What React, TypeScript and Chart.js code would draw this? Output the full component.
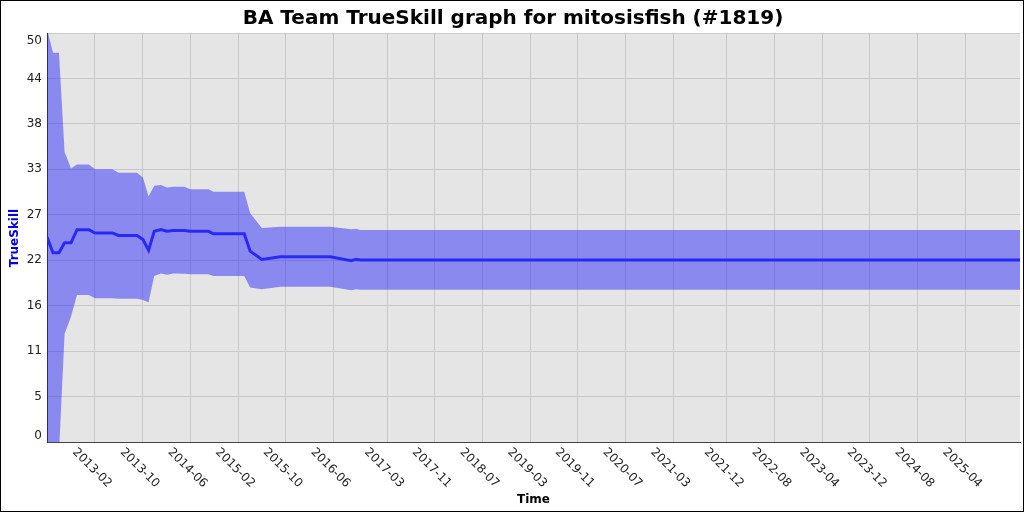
import React, { useEffect, useRef } from 'react';
import { Chart, registerables } from 'chart.js';

Chart.register(...registerables);

const TITLE = 'BA Team TrueSkill graph for mitosisfish (#1819)';
const Y_TITLE = 'TrueSkill';
const X_TITLE = 'Time';

// x values: months since 2012-01
const months = [4.95, 5.96, 6.96, 7.9, 8.98, 9.98, 11.99, 13.0, 15.9, 16.96, 20.04, 21.05, 21.99, 22.94, 24.07, 25.07, 26.18, 28.03, 28.98, 32.05, 32.89, 38.04, 39.04, 41.0, 44.08, 52.46, 56.0, 56.8, 57.5, 168.2];
const mean = [24.8, 22.9, 22.9, 24.1, 24.1, 25.7, 25.7, 25.3, 25.3, 25.0, 25.0, 24.5, 23.2, 25.5, 25.7, 25.5, 25.6, 25.6, 25.5, 25.5, 25.2, 25.2, 23.1, 22.1, 22.43, 22.43, 21.94, 22.1, 22.03, 22.03];
const upper = [50.0, 47.1, 47.1, 35.1, 33.1, 33.6, 33.6, 33.0, 33.0, 32.6, 32.6, 32.0, 29.7, 31.0, 31.1, 30.8, 30.9, 30.9, 30.6, 30.6, 30.3, 30.3, 27.7, 25.9, 26.06, 26.06, 25.74, 25.8, 25.66, 25.66];
const lower = [-0.4, -1.3, -1.3, 13.1, 15.2, 17.8, 17.8, 17.4, 17.4, 17.35, 17.35, 17.2, 16.9, 20.1, 20.4, 20.25, 20.4, 20.35, 20.3, 20.3, 20.1, 20.1, 18.7, 18.5, 18.8, 18.8, 18.36, 18.5, 18.43, 18.43];

const xTickMonths = [13, 21, 29, 37, 45, 53, 62, 70, 78, 86, 94, 102, 110, 119, 127, 135, 143, 151, 159];
const xTickLabels = ['2013-02', '2013-10', '2014-06', '2015-02', '2015-10', '2016-06', '2017-03', '2017-11', '2018-07', '2019-03', '2019-11', '2020-07', '2021-03', '2021-12', '2022-08', '2023-04', '2023-12', '2024-08', '2025-04'];
const yTickValues = [0.73, 5.5, 11, 16.5, 22, 27.5, 33, 38.5, 44, 48.5];
const yTickLabels = ['0', '5', '11', '16', '22', '27', '33', '38', '44', '50'];

const FONT = '"DejaVu Sans", sans-serif';

export default function App() {
  const ref = useRef<HTMLCanvasElement | null>(null);
  useEffect(() => {
    if (!ref.current) return;
    const pts = (arr: number[]) => arr.map((v, i) => ({ x: months[i], y: v }));
    const decor = {
      id: 'decor',
      beforeDraw(chart: any) {
        const { ctx, chartArea: a } = chart;
        ctx.save();
        ctx.fillStyle = '#ffffff';
        ctx.fillRect(0, 0, chart.width, chart.height);
        ctx.fillStyle = '#e5e5e5';
        ctx.fillRect(a.left, a.top, a.right - a.left, a.bottom - a.top);
        ctx.strokeStyle = '#cccccc';
        ctx.lineWidth = 1;
        ctx.beginPath();
        ctx.moveTo(a.left, a.top + 0.5);
        ctx.lineTo(a.right, a.top + 0.5);
        ctx.stroke();
        ctx.restore();
      },
      afterDraw(chart: any) {
        const { ctx, chartArea: a } = chart;
        const xs = chart.scales.x;
        ctx.save();
        ctx.font = '12px ' + FONT;
        ctx.fillStyle = '#222222';
        ctx.textAlign = 'center';
        ctx.textBaseline = 'middle';
        xTickMonths.forEach((m, i) => {
          const px = xs.getPixelForValue(m);
          ctx.save();
          ctx.translate(px - 3, 468);
          ctx.rotate(Math.PI / 4);
          ctx.fillText(xTickLabels[i], 0, 0);
          ctx.restore();
        });
        ctx.fillStyle = '#000000';
        ctx.font = 'bold 20px ' + FONT;
        ctx.textBaseline = 'alphabetic';
        ctx.fillText(TITLE, 513, 24);
        ctx.font = 'bold 12px ' + FONT;
        ctx.textBaseline = 'middle';
        ctx.fillText(X_TITLE, (a.left + a.right) / 2, 499.5);
        ctx.save();
        ctx.translate(15, 238);
        ctx.rotate(-Math.PI / 2);
        ctx.fillStyle = '#0000e6';
        ctx.fillText(Y_TITLE, 0, 0);
        ctx.restore();
        ctx.strokeStyle = '#000000';
        ctx.lineWidth = 1;
        ctx.strokeRect(0.5, 0.5, chart.width - 1, chart.height - 1);
        ctx.restore();
      },
    };
    const chart = new Chart(ref.current, {
      type: 'line',
      data: {
        datasets: [
          { label: 'upper', data: pts(upper), fill: '+1', backgroundColor: 'rgba(0,0,255,0.4)', borderWidth: 0, pointRadius: 0, tension: 0 },
          { label: 'lower', data: pts(lower), fill: false, borderWidth: 0, pointRadius: 0, tension: 0 },
          { label: 'TrueSkill', data: pts(mean), fill: false, borderColor: '#4545f2', borderWidth: 3, pointRadius: 0, tension: 0 },
        ],
      },
      options: {
        animation: false,
        responsive: false,
        layout: { padding: { top: 33, right: 4, left: 0, bottom: 0 } },
        plugins: { legend: { display: false }, title: { display: false }, tooltip: { enabled: false } },
        scales: {
          x: {
            type: 'linear',
            min: 4.95,
            max: 168.2,
            afterBuildTicks: (s: any) => { s.ticks = xTickMonths.map((v) => ({ value: v })); },
            afterFit: (s: any) => { s.height = 70; },
            ticks: { display: false },
            grid: { color: '#c8c8c8', drawTicks: false, lineWidth: 1 },
            border: { color: '#444444', width: 1 },
          },
          y: {
            type: 'linear',
            min: 0,
            max: 49.5,
            afterBuildTicks: (s: any) => { s.ticks = yTickValues.map((v) => ({ value: v })); },
            afterFit: (s: any) => { s.width = 47; },
            ticks: {
              callback: (_v: any, i: number) => yTickLabels[i],
              font: { family: FONT, size: 12 },
              color: '#222222',
              padding: 5,
            },
            grid: {
              color: (c: any) => (c.index === 0 || c.index === yTickValues.length - 1 ? 'rgba(0,0,0,0)' : '#c8c8c8'),
              drawTicks: false,
              lineWidth: 1,
            },
            border: { color: '#444444', width: 1 },
          },
        },
      },
      plugins: [decor],
    } as any);
    return () => chart.destroy();
  }, []);
  return (
    <div style={{ position: 'absolute', left: 0, top: 0, width: 1024, height: 512 }}>
      <canvas ref={ref} width={1024} height={512} style={{ display: 'block' }} />
    </div>
  );
}
